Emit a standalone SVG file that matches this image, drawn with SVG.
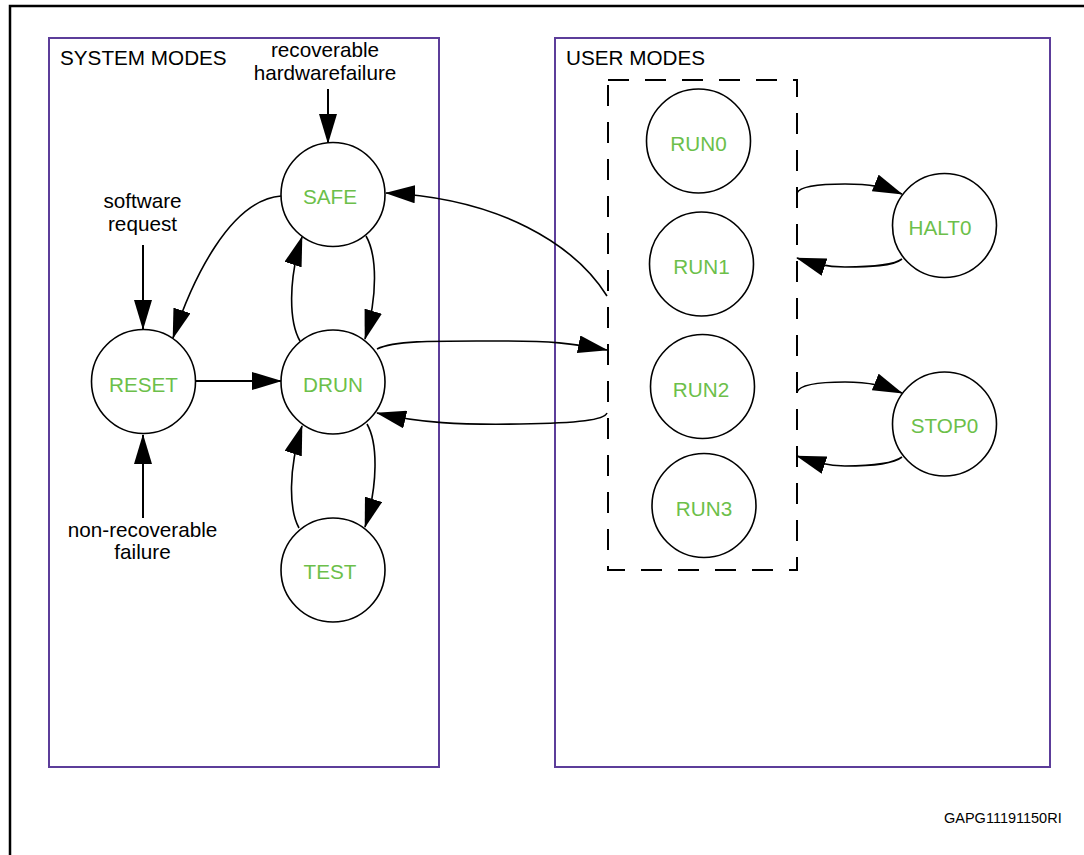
<svg xmlns="http://www.w3.org/2000/svg" width="1084" height="855" viewBox="0 0 1084 855">
<style>
.frame{fill:none;stroke:#000;stroke-width:2.5}
.panel{fill:none;stroke:#5c3d9a;stroke-width:2}
.node{fill:#fff;stroke:#000;stroke-width:1.6}
.lbl{font-family:"Liberation Sans",Arial,sans-serif;font-size:20.7px;fill:#6cbf4a;text-anchor:middle}
.txt{font-family:"Liberation Sans",Arial,sans-serif;font-size:20.7px;fill:#000}
.mid{text-anchor:middle}
.edge{fill:none;stroke:#000;stroke-width:1.6;marker-end:url(#ah)}
.edge2{fill:none;stroke:#000;stroke-width:2;marker-end:url(#ah)}
.dash{fill:none;stroke:#000;stroke-width:2;stroke-dasharray:21 16}
.code{font-family:"Liberation Sans",Arial,sans-serif;font-size:14.5px;fill:#000}
</style>
<defs>
<marker id="ah" markerUnits="userSpaceOnUse" markerWidth="30" markerHeight="18" viewBox="0 0 30 18" refX="29" refY="9" orient="auto">
<path d="M0,0 L30,9 L0,18 z" fill="#000"/>
</marker>
</defs>
<rect width="1084" height="855" fill="#fff"/>
<path class="frame" d="M10,856 L10,6 L1086,6"/>
<g id="system-modes">
<rect class="panel" x="49" y="38" width="390" height="729"/>
<text class="txt" x="60" y="64.5">SYSTEM MODES</text>
</g>
<g id="user-modes">
<rect class="panel" x="555" y="38" width="495" height="729"/>
<text class="txt" x="566" y="64.5">USER MODES</text>
<rect id="run-group" class="dash" x="608" y="80" width="189" height="490"/>
</g>
<g id="labels">
<text class="txt mid" x="325" y="57">recoverable</text>
<text class="txt mid" x="325" y="80">hardwarefailure</text>
<text class="txt mid" x="142.5" y="208">software</text>
<text class="txt mid" x="142.5" y="231">request</text>
<text class="txt mid" x="142.5" y="537">non-recoverable</text>
<text class="txt mid" x="142.5" y="559">failure</text>
</g>
<g id="connectors">
<path class="edge2" d="M328,89 L328,143"/>
<path class="edge2" d="M143,245 L143,329"/>
<path class="edge2" d="M143,518 L143,435"/>
<path class="edge2" d="M196,381 L281,381"/>
<path class="edge" d="M281,196 C230,200 192,280 173,338"/>
<path class="edge" d="M300,341 C289,322 288,280 302,237"/>
<path class="edge" d="M366,236 C377,255 378,295 365,339"/>
<path class="edge" d="M299,528 C289,510 288,470 302,426"/>
<path class="edge" d="M367,424 C378,443 378,485 365,527"/>
<path class="edge" d="M377,349 C395,340 440,341 500,341 C550,341 572,343 607,350"/>
<path class="edge" d="M607,413 C604,420 580,423 520,424 C460,425 420,423 377,413"/>
<path class="edge" d="M607,296 C575,245 500,198 386,193"/>
<path class="edge" d="M797,193 C800,186 820,184 845,184 C870,184 885,187 902,194"/>
<path class="edge" d="M902,259 C893,266 870,267 845,267 C825,267 812,263 797,258"/>
<path class="edge" d="M797,392 C800,384 820,382 845,382 C870,382 885,386 902,393"/>
<path class="edge" d="M902,457 C893,464 870,466 845,466 C825,466 812,461 797,456"/>
</g>
<g id="SAFE"><circle class="node" cx="333" cy="194.5" r="52"/><text class="lbl" x="330" y="204">SAFE</text></g>
<g id="DRUN"><circle class="node" cx="333" cy="382" r="52"/><text class="lbl" x="333" y="391.5">DRUN</text></g>
<g id="TEST"><circle class="node" cx="333" cy="570" r="52"/><text class="lbl" x="330" y="579">TEST</text></g>
<g id="RESET"><circle class="node" cx="143.5" cy="381.5" r="52"/><text class="lbl" x="143.5" y="391.5">RESET</text></g>
<g id="RUN0"><circle class="node" cx="698.5" cy="141" r="52"/><text class="lbl" x="698.5" y="151">RUN0</text></g>
<g id="RUN1"><circle class="node" cx="701.5" cy="264" r="52"/><text class="lbl" x="701.5" y="274">RUN1</text></g>
<g id="RUN2"><circle class="node" cx="702.5" cy="386.5" r="52"/><text class="lbl" x="701" y="396.5">RUN2</text></g>
<g id="RUN3"><circle class="node" cx="704" cy="505.5" r="52"/><text class="lbl" x="704" y="515.5">RUN3</text></g>
<g id="HALT0"><circle class="node" cx="944.5" cy="225.5" r="52"/><text class="lbl" x="940" y="235">HALT0</text></g>
<g id="STOP0"><circle class="node" cx="944.5" cy="424" r="52"/><text class="lbl" x="944.5" y="433">STOP0</text></g>
<text class="code" x="944" y="823">GAPG11191150RI</text>
</svg>
